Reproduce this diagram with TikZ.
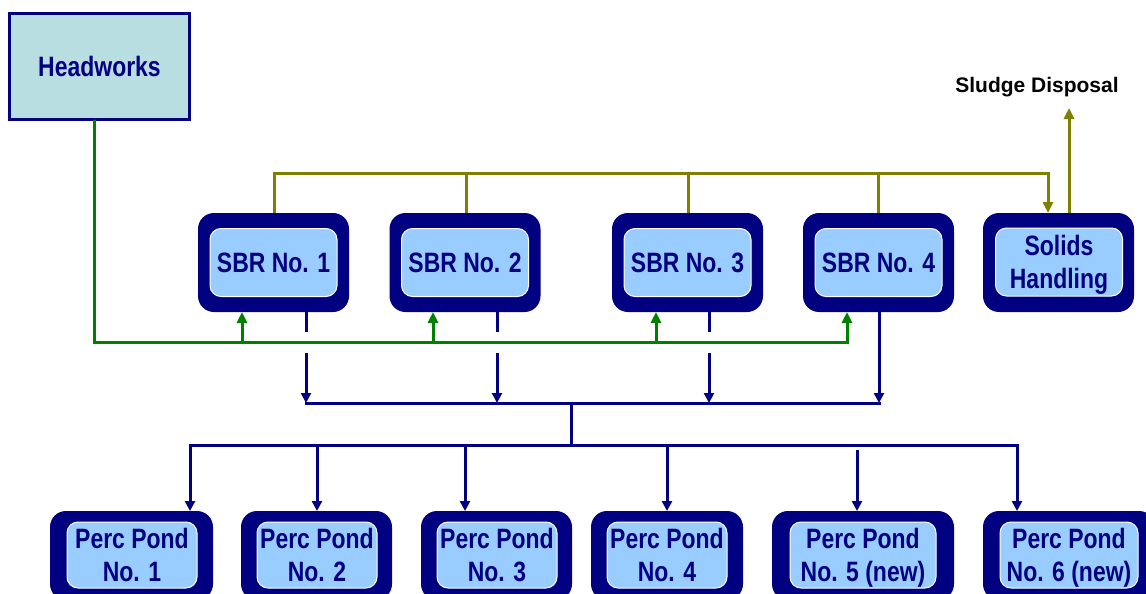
\documentclass[tikz,border=0pt]{standalone}
\usepackage{fontspec}
\setmainfont{Liberation Sans}
\newfontfamily\narrowfont{Liberation Sans Bold}[FakeStretch=0.82]
\newfontfamily\boldsans{Liberation Sans Bold}
\usetikzlibrary{arrows.meta}
\definecolor{navy}{RGB}{0,0,128}
\definecolor{lblue}{RGB}{153,204,255}
\definecolor{hwfill}{RGB}{184,222,226}
\definecolor{dgreen}{RGB}{0,128,0}
\definecolor{olivec}{RGB}{128,128,0}
\begin{document}
\begin{tikzpicture}[x=1pt,y=-1pt,
  outerbox/.style={fill=navy, rounded corners=16pt, inner sep=0pt, outer sep=0pt},
  innerbox/.style={fill=lblue, draw=white, line width=1pt, rounded corners=11pt,
    inner sep=0pt, outer sep=0pt, text=navy, align=center, text depth=0pt,
    font=\narrowfont\fontsize{28}{33}\selectfont},
  hwbox/.style={fill=hwfill, draw=navy, line width=3.5pt, inner sep=0pt, outer sep=0pt,
    text=navy, font=\narrowfont\fontsize{28}{33}\selectfont},
  navyline/.style={draw=navy, line width=3pt},
  navyarrow/.style={navyline, -{Triangle[width=10pt,length=10pt]}},
  greenline/.style={draw=dgreen, line width=3pt},
  greenarrow/.style={greenline, -{Triangle[width=10pt,length=11pt]}},
  olivearrow/.style={draw=olivec, line width=3pt, -{Triangle[width=10pt,length=11pt]}},
  sbr/.style={outerbox, minimum width=151pt, minimum height=99pt},
  sbrin/.style={innerbox, minimum width=127pt, minimum height=68pt},
  pond/.style={outerbox, minimum height=89pt},
  pondin/.style={innerbox, minimum height=66pt}
]
\useasboundingbox (0,0) rectangle (1146,594);
\clip (0,0) rectangle (1146,594);

% Headworks
\node[hwbox, minimum width=180pt, minimum height=106pt] (hw) at (99.5,66.5) {Headworks};

% SBRs
\node[sbr] (s1) at (273.5,262.5) {};
\node[sbrin] (s1t) at (s1) {SBR No. 1};
\node[sbr] (s2) at (465,262.5) {};
\node[sbrin] (s2t) at (s2) {SBR No. 2};
\node[sbr] (s3) at (687.5,262.5) {};
\node[sbrin] (s3t) at (s3) {SBR No. 3};
\node[sbr] (s4) at (878.5,262.5) {};
\node[sbrin] (s4t) at (s4) {SBR No. 4};
\node[sbr] (sh) at (1058.5,262.5) {};
\node[sbrin] (sht) at (1059,262) {Solids\\Handling};

% Sludge disposal
\node[font=\boldsans\fontsize{21}{24}\selectfont, text=black] (sd) at (1037,87) {Sludge Disposal};

% Perc ponds
\node[pond, minimum width=163pt] (p1) at (131.5,555.5) {};
\node[pondin, minimum width=130pt] (p1t) at (132,555) {Perc Pond\\No. 1};
\node[pond, minimum width=151pt] (p2) at (316.5,555.5) {};
\node[pondin, minimum width=120pt] (p2t) at (317,555) {Perc Pond\\No. 2};
\node[pond, minimum width=151pt] (p3) at (496.5,555.5) {};
\node[pondin, minimum width=120pt] (p3t) at (497,555) {Perc Pond\\No. 3};
\node[pond, minimum width=152pt] (p4) at (667,555.5) {};
\node[pondin, minimum width=120pt] (p4t) at (667,555) {Perc Pond\\No. 4};
\node[pond, minimum width=182pt] (p5) at (863,555.5) {};
\node[pondin, minimum width=146pt] (p5t) at (863,555) {Perc Pond\\No. 5 (new)};
\node[pond, minimum width=172pt] (p6) at (1069,555.5) {};
\node[pondin, minimum width=138pt] (p6t) at (1069,555) {Perc Pond\\No. 6 (new)};

% coordinates
\coordinate (u1) at (306,403);
\coordinate (u2) at (497,403);
\coordinate (u3) at (709,403);
\coordinate (u4) at (879,403);
\coordinate (j1) at (571,403);
\coordinate (j2) at (571,445);
\coordinate (d1) at (190,445);
\coordinate (d2) at (317,445);
\coordinate (d3) at (465,445);
\coordinate (d4) at (667,445);
\coordinate (d5) at (857,445);
\coordinate (d6) at (1017,445);
\coordinate (g0) at (94,342);
\coordinate (g1) at (242,342);
\coordinate (g2) at (433,342);
\coordinate (g3) at (656,342);
\coordinate (g4) at (847,342);
\coordinate (o1) at (274,173);
\coordinate (o2) at (466,173);
\coordinate (o3) at (688,173);
\coordinate (o4) at (878,173);
\coordinate (o5) at (1048,173);
\coordinate (sdx) at (1069,108);

% navy flow from SBRs
\draw[navyarrow] (s1.south -| u1) -- (u1);
\draw[navyarrow] (s2.south -| u2) -- (u2);
\draw[navyarrow] (s3.south -| u3) -- (u3);
\draw[navyarrow] (s4.south -| u4) -- (u4);
\draw[navyline, line cap=rect] (u1) -- (u4);
\draw[navyline] (j1) -- (j2);
\draw[navyline, line cap=rect] (d1) -- (d6);
\draw[navyarrow] (d1) -- (d1 |- p1.north);
\draw[navyarrow] (d2) -- (d2 |- p2.north);
\draw[navyarrow] (d3) -- (d3 |- p3.north);
\draw[navyarrow] (d4) -- (d4 |- p4.north);
\draw[navyarrow] ([yshift=-5pt]d5) -- (d5 |- p5.north);
\draw[navyarrow] (d6) -- (d6 |- p6.north);

% gap where navy lines cross the green feed line
\path[draw=white, line width=21pt] (g0) -- (g4);

% green feed
\draw[greenarrow] (hw.south -| g0) -- (g0) -- (g4) -- (g4 |- s4.south);
\draw[greenarrow] (g1) -- (g1 |- s1.south);
\draw[greenarrow] (g2) -- (g2 |- s2.south);
\draw[greenarrow] (g3) -- (g3 |- s3.south);

% olive sludge lines
\draw[olivearrow] (s1.north -| o1) -- (o1) -- (o5) -- (o5 |- sh.north);
\draw[draw=olivec, line width=3pt] (s2.north -| o2) -- (o2);
\draw[draw=olivec, line width=3pt] (s3.north -| o3) -- (o3);
\draw[draw=olivec, line width=3pt] (s4.north -| o4) -- (o4);
\draw[olivearrow] (sh.north -| sdx) -- (sdx);
\end{tikzpicture}
\end{document}
